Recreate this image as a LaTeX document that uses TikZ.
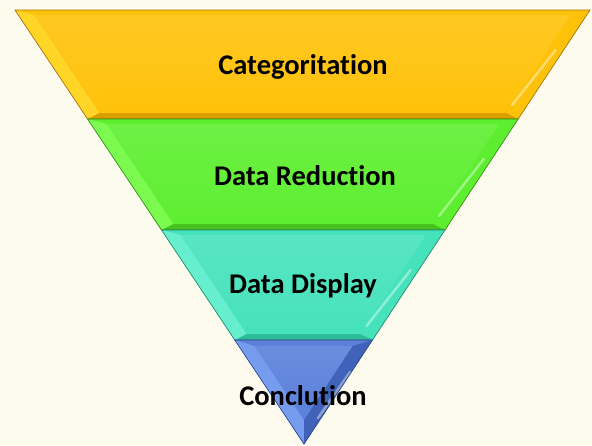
\documentclass[tikz,border=0pt]{standalone}
\usepackage{fontspec}
\setmainfont[Ligatures={NoCommon,NoContextual}]{Carlito}

\definecolor{paper}{HTML}{FCFBEE}
% band colours: face, light facet, dark facet
\definecolor{cat face}{HTML}{FFC20A}
\definecolor{cat light}{HTML}{FFD628}
\definecolor{cat dark}{HTML}{D99E00}
\definecolor{red face}{HTML}{5EEE30}
\definecolor{red light}{HTML}{7CFA50}
\definecolor{red dark}{HTML}{46C21E}
\definecolor{disp face}{HTML}{46E2BC}
\definecolor{disp light}{HTML}{66EECE}
\definecolor{disp dark}{HTML}{2CBC98}
\definecolor{concl face}{HTML}{5A80DA}
\definecolor{concl light}{HTML}{759CEE}
\definecolor{concl dark}{HTML}{4062B8}

\tikzset{
  tag/.style={inner sep=0pt, text=black, font=\bfseries\fontsize{28.5}{32}\selectfont},
  rim/.style={draw=#1 dark!75!black, line width=0.7pt},
  streak/.style={white, opacity=.4, line width=2.5pt, line cap=round},
}

\begin{document}
\begin{tikzpicture}[x=1pt,y=-1pt]
\fill[paper] (0,0) rectangle (592,445);
\useasboundingbox (0,0) rectangle (592,445);

% trapezoid bands
\foreach \t/\b/\col in {10/119/cat,119/230/red,230/340/disp}{
  \pgfmathsetmacro\lt{15+0.6659*(\t-10)}
  \pgfmathsetmacro\rt{590-0.659*(\t-10)}
  \pgfmathsetmacro\lb{15+0.6659*(\b-10)}
  \pgfmathsetmacro\rb{590-0.659*(\b-10)}
  \pgfmathsetmacro\it{\t+5}
  \pgfmathsetmacro\ib{\b-6}
  \pgfmathsetmacro\ilt{15+0.6659*(\it-10)+16}
  \pgfmathsetmacro\irt{590-0.659*(\it-10)-16}
  \pgfmathsetmacro\ilb{15+0.6659*(\ib-10)+16}
  \pgfmathsetmacro\irb{590-0.659*(\ib-10)-16}
  \fill[\col\space face] (\lt,\t) -- (\rt,\t) -- (\rb,\b) -- (\lb,\b) -- cycle;
  \fill[\col\space light] (\lt,\t) -- (\ilt,\it) -- (\ilb,\ib) -- (\lb,\b) -- cycle;
  \fill[\col\space dark] (\lb,\b) -- (\ilb,\ib) -- (\irb,\ib) -- (\rb,\b) -- cycle;
  \shade[top color=\col\space face!90!white, bottom color=\col\space face]
    (\ilt,\it) -- (\irt,\it) -- (\irb,\ib) -- (\ilb,\ib) -- cycle;
  \draw[streak] ({\rb-6},{\b-14}) -- ({590-0.659*(\t+40-10)-8},{\t+40});
  \draw[rim=\col] (\lt,\t) -- (\rt,\t) -- (\rb,\b) -- (\lb,\b) -- cycle;
}

% bottom triangle
\fill[concl face] (234.7,340) -- (372.5,340) -- (304,444) -- cycle;
\fill[concl light] (234.7,340) -- (254.6,346) -- (304,420) -- (304,444) -- cycle;
\fill[concl dark] (304,444) -- (304,420) -- (352.5,346) -- (372.5,340) -- cycle;
\shade[top color=concl face!90!white, bottom color=concl face]
  (254.6,346) -- (352.5,346) -- (304,420) -- cycle;
\draw[streak] (318,418) -- (350,372);
\draw[rim=concl] (234.7,340) -- (372.5,340) -- (304,444) -- cycle;

% labels
\node[tag] (cat) at (303,67) {Categoritation};
\node[tag] (red) at (305,176) {Data Reduction};
\node[tag] (disp) at (303,286) {Data Display};
\node[tag] (concl) at (303,396) {Conclution};
\end{tikzpicture}
\end{document}
